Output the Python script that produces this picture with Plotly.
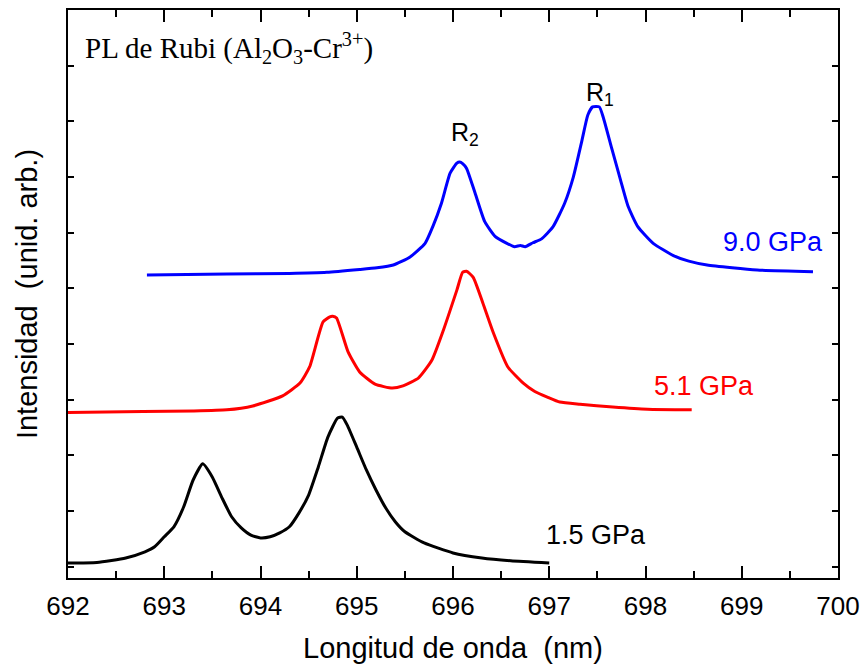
import plotly.graph_objects as go

# ---- data ----
x_15 = [692.0, 692.3, 692.6, 692.8, 692.9, 693.0, 693.1, 693.2, 693.3, 693.4, 693.5, 693.6,
        693.7, 693.8, 693.9, 694.0, 694.1, 694.2, 694.3, 694.4, 694.5, 694.6, 694.7, 694.8,
        694.85, 694.9, 695.0, 695.1, 695.2, 695.3, 695.4, 695.5, 695.7, 696.0, 696.3, 696.6, 697.0]
y_15 = [0.07, 0.08, 0.16, 0.27, 0.36, 0.54, 0.72, 1.07, 1.56, 1.85, 1.61, 1.24,
        0.90, 0.70, 0.57, 0.52, 0.54, 0.61, 0.72, 0.97, 1.29, 1.79, 2.33, 2.67,
        2.69, 2.55, 2.15, 1.74, 1.38, 1.06, 0.81, 0.63, 0.43, 0.25, 0.16, 0.11, 0.07]

x_51 = [692.00, 692.78, 693.30, 693.65, 693.92, 694.23, 694.41, 694.51, 694.65, 694.72, 694.75,
        694.79, 694.91, 695.03, 695.19, 695.37, 695.48, 695.64, 695.78, 695.90, 696.04, 696.10,
        696.14, 696.21, 696.31, 696.42, 696.57, 696.73, 696.85, 696.98, 697.11, 697.32, 697.66,
        698.02, 698.48]
y_51 = [2.77, 2.79, 2.80, 2.82, 2.89, 3.07, 3.30, 3.59, 4.40, 4.49, 4.50,
        4.47, 3.86, 3.50, 3.28, 3.21, 3.25, 3.39, 3.71, 4.25, 4.97, 5.29,
        5.31, 5.20, 4.74, 4.20, 3.59, 3.30, 3.15, 3.05, 2.96, 2.92, 2.87,
        2.83, 2.82]

x_90 = [692.82, 693.65, 694.30, 694.69, 695.03, 695.21, 695.38, 695.55, 695.71, 695.79, 695.88,
        695.97, 696.04, 696.07, 696.10, 696.14, 696.23, 696.33, 696.44, 696.56, 696.64, 696.70,
        696.75, 696.83, 696.92, 697.04, 697.16, 697.25, 697.34, 697.40, 697.45, 697.52, 697.56,
        697.65, 697.74, 697.82, 697.92, 698.08, 698.29, 698.45, 698.64, 698.90, 699.16, 699.74]
y_90 = [5.24, 5.26, 5.27, 5.29, 5.34, 5.37, 5.42, 5.56, 5.81, 6.11, 6.53,
        7.07, 7.25, 7.27, 7.24, 7.16, 6.71, 6.20, 5.93, 5.81, 5.75, 5.77,
        5.75, 5.82, 5.89, 6.11, 6.53, 7.00, 7.66, 8.11, 8.26, 8.26, 8.08,
        7.51, 6.95, 6.47, 6.11, 5.81, 5.59, 5.49, 5.42, 5.37, 5.33, 5.30]

series = [
    (x_15, y_15, "#000000", "1.5 GPa", 696.95, 0.57),
    (x_51, y_51, "#ff0000", "5.1 GPa", 698.07, 3.25),
    (x_90, y_90, "#0000ff", "9.0 GPa", 698.78, 5.83),
]

x_ticks = [692, 693, 694, 695, 696, 697, 698, 699, 700]

SANS = "Liberation Sans, Arial"
fig = go.Figure()
for xs, ys, col, name, lx, ly in series:
    fig.add_trace(go.Scatter(x=xs, y=ys, mode="lines",
                             line=dict(color=col, width=3, shape="spline", smoothing=0.5),
                             showlegend=False, hoverinfo="skip"))
    fig.add_annotation(x=lx, y=ly, text=name, showarrow=False, xanchor="left",
                       yanchor="middle", font=dict(family=SANS, size=27, color=col))

fig.add_annotation(x=696.12, y=7.77, text="R<sub>2</sub>", showarrow=False,
                   font=dict(family=SANS, size=25, color="black"))
fig.add_annotation(x=697.53, y=8.50, text="R<sub>1</sub>", showarrow=False,
                   font=dict(family=SANS, size=25, color="black"))
fig.add_annotation(x=692.156, y=9.32, text="PL de Rubi (Al<sub>2</sub>O<sub>3</sub>-Cr<sup>3+</sup>)",
                   showarrow=False, xanchor="left", yanchor="middle",
                   font=dict(family="Liberation Serif, Times New Roman", size=29, color="black"))

fig.update_layout(
    width=862, height=664,
    margin=dict(l=68, r=24, t=10, b=86),
    plot_bgcolor="white", paper_bgcolor="white",
    font=dict(family=SANS, color="black"),
)
fig.update_xaxes(
    range=[692, 700], tickvals=x_ticks, ticktext=[str(v) for v in x_ticks],
    ticks="inside", ticklen=12, tickwidth=2, tickcolor="black",
    minor=dict(dtick=0.5, ticks="inside", ticklen=7, tickwidth=2, tickcolor="black"),
    showline=True, linewidth=2, linecolor="black", mirror="ticks",
    showgrid=False, zeroline=False, ticklabelstandoff=4, automargin=False,
    tickfont=dict(size=26, family=SANS),
    title=dict(text="Longitud de onda  (nm)", font=dict(size=29, family=SANS), standoff=18),
)
fig.update_yaxes(
    range=[-0.2, 10.0], dtick=1, tick0=0, showticklabels=False,
    ticks="inside", ticklen=6, tickwidth=2, tickcolor="black",
    showline=True, linewidth=2, linecolor="black", mirror="ticks",
    showgrid=False, zeroline=False, automargin=False,
    title=dict(text="Intensidad  (unid. arb.)", font=dict(size=29, family=SANS), standoff=20),
)

fig.write_html("out.html")
